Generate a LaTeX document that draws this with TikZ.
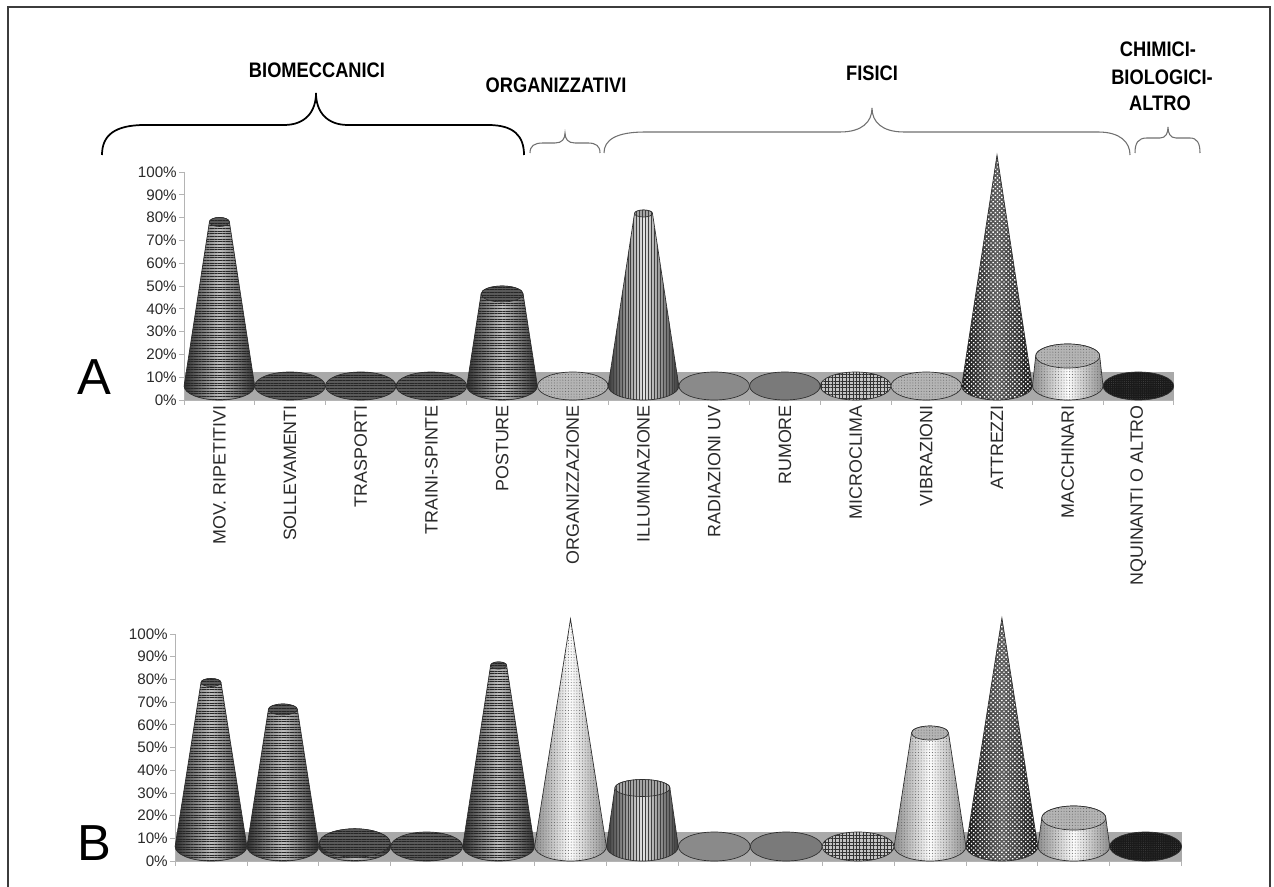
\documentclass[tikz,border=0pt]{standalone}
\usepackage{fontspec}
\setmainfont{Liberation Sans}
\newfontfamily\headfont[FakeStretch=0.87]{Liberation Sans}
\usetikzlibrary{patterns.meta}
\definecolor{frameC}{HTML}{3C3C3C}
\definecolor{bandC}{HTML}{A9A9A9}
\definecolor{axisC}{HTML}{B4B4B4}
\definecolor{edgeC}{HTML}{2E2E2E}
\definecolor{txtC}{HTML}{2A2A2A}
\definecolor{braceC}{HTML}{707070}
\definecolor{hsE}{HTML}{2E2E2E}
\definecolor{hsM}{HTML}{BEBEBE}
\definecolor{hsT}{HTML}{5A5A5A}
\definecolor{vsE}{HTML}{3C3C3C}
\definecolor{vsM}{HTML}{E4E4E4}
\definecolor{vsT}{HTML}{A4A4A4}
\definecolor{ldE}{HTML}{8E8E8E}
\definecolor{ldM}{HTML}{FCFCFC}
\definecolor{ldT}{HTML}{B4B4B4}
\definecolor{ckE}{HTML}{141414}
\definecolor{ckM}{HTML}{5E5E5E}
\definecolor{fdC}{HTML}{8E8E8E}
\definecolor{soC}{HTML}{7A7A7A}
\definecolor{grC}{HTML}{C4C4C4}
\definecolor{bkC}{HTML}{1A1A1A}
\tikzset{
  edge/.style={draw=edgeC, line width=0.5pt},
  hs side/.style={left color=hsE, right color=hsE, middle color=hsM},
  hs top/.style={fill=hsT},
  hs pat/.style={pattern={Lines[angle=0,distance=2pt,line width=0.42pt]}, pattern color=black!85},
  vs side/.style={left color=vsE, right color=vsE, middle color=vsM},
  vs top/.style={fill=vsT},
  vs pat/.style={pattern={Lines[angle=90,distance=2.2pt,line width=0.35pt]}, pattern color=black!75},
  ld side/.style={left color=ldE, right color=ldE, middle color=ldM},
  ld top/.style={fill=ldT},
  ld pat/.style={pattern={Dots[radius=0.38pt,distance=2.1pt]}, pattern color=black!60},
  ck side/.style={left color=ckE, right color=ckE, middle color=ckM},
  ck top/.style={fill=ckE},
  ck pat/.style={pattern={Dots[radius=0.72pt,distance=2.3pt,angle=45]}, pattern color=white},
  fd top/.style={fill=fdC},
  fd pat/.style={pattern={Dots[radius=0.3pt,distance=1.5pt]}, pattern color=black!60},
  so top/.style={fill=soC},
  so pat/.style={},
  gr top/.style={fill=grC},
  gr pat/.style={pattern={Hatch[distance=2.6pt,line width=0.45pt]}, pattern color=black!80},
  bk top/.style={fill=bkC},
  bk pat/.style={pattern={Dots[radius=0.3pt,distance=1.6pt]}, pattern color=black!70!white},
  axisln/.style={draw=axisC, line width=0.6pt},
  band/.style={fill=bandC},
  pct/.style={anchor=east, inner sep=0pt, text=txtC, font=\fontsize{11.4pt}{13pt}\selectfont},
  catlab/.style={rotate=90, anchor=east, inner sep=0pt, text=txtC, font=\fontsize{13.4pt}{16pt}\selectfont},
  head/.style={inner sep=0pt, text=black, font=\headfont\bfseries\fontsize{15.75pt}{19pt}\selectfont},
  biglet/.style={inner sep=0pt, anchor=base west, text=black, font=\fontsize{38pt}{40pt}\selectfont},
  bracebig/.style={draw=black, line width=1.3pt},
  bracesmall/.style={draw=braceC, line width=0.8pt},
  frameln/.style={draw=frameC, line width=1.8pt},
}
% #1 mat, #2 cx, #3 cy, #4 rb, #5 ryb, #6 ty, #7 rt, #8 ryt
\newcommand\Frust[8]{%
  \shade[#1 side] (#2-#4,#3) -- (#2-#7,#6) arc[start angle=180,end angle=360,x radius=#7,y radius=#8] -- (#2+#4,#3) arc[start angle=0,end angle=180,x radius=#4,y radius=#5] -- cycle;
  \path[#1 pat] (#2-#4,#3) -- (#2-#7,#6) arc[start angle=180,end angle=360,x radius=#7,y radius=#8] -- (#2+#4,#3) arc[start angle=0,end angle=180,x radius=#4,y radius=#5] -- cycle;
  \draw[edge] (#2-#4,#3) -- (#2-#7,#6) arc[start angle=180,end angle=360,x radius=#7,y radius=#8] -- (#2+#4,#3) arc[start angle=0,end angle=180,x radius=#4,y radius=#5] -- cycle;
  \fill[#1 top] (#2,#6) ellipse[x radius=#7,y radius=#8];
  \path[#1 pat] (#2,#6) ellipse[x radius=#7,y radius=#8];
  \draw[edge] (#2,#6) ellipse[x radius=#7,y radius=#8];
}
% #1 mat, #2 cx, #3 cy, #4 rb, #5 ryb, #6 apex y
\newcommand\Cone[6]{%
  \shade[#1 side] (#2-#4,#3) -- (#2,#6) -- (#2+#4,#3) arc[start angle=0,end angle=180,x radius=#4,y radius=#5] -- cycle;
  \path[#1 pat] (#2-#4,#3) -- (#2,#6) -- (#2+#4,#3) arc[start angle=0,end angle=180,x radius=#4,y radius=#5] -- cycle;
  \draw[edge] (#2-#4,#3) -- (#2,#6) -- (#2+#4,#3) arc[start angle=0,end angle=180,x radius=#4,y radius=#5] -- cycle;
}
% #1 mat, #2 cx, #3 cy, #4 rx, #5 ry
\newcommand\Flat[5]{%
  \fill[#1 top] (#2,#3) ellipse[x radius=#4,y radius=#5];
  \path[#1 pat] (#2,#3) ellipse[x radius=#4,y radius=#5];
  \draw[edge] (#2,#3) ellipse[x radius=#4,y radius=#5];
}
\begin{document}
\begin{tikzpicture}[x=0.75pt,y=-0.75pt]
\useasboundingbox[fill=white] (0,0) rectangle (1274,887);
% frame
\draw[frameln] (8,887) -- (8,7) -- (1270,7) -- (1270,887);

% ---------- headings and braces ----------
\node[head] (hBio) at (317,70) {BIOMECCANICI};
\node[head] (hOrg) at (556,85) {ORGANIZZATIVI};
\node[head] (hFis) at (872,73) {FISICI};
\node[head] (hChi1) at (1158,49) {CHIMICI-};
\node[head] (hChi2) at (1162,77) {BIOLOGICI-};
\node[head] (hChi3) at (1160,103) {ALTRO};

\draw[bracebig] (102,155) .. controls (102,135) and (115,125) .. (145,125) -- (284,125) .. controls (305,125) and (316,112) .. (316,93) .. controls (316,112) and (327,125) .. (348,125) -- (488,125) .. controls (514,125) and (524,136) .. (524,155);
\draw[bracesmall] (530,153) .. controls (530,146) and (534,143) .. (543,143) -- (555,143) .. controls (562,143) and (565,139) .. (565,133) .. controls (565,139) and (568,143) .. (575,143) -- (588,143) .. controls (596,143) and (600,146) .. (600,153);
\draw[bracesmall] (604,153) .. controls (604,140) and (616,132) .. (645,132) -- (840,132) .. controls (862,132) and (872,122) .. (872,108) .. controls (872,122) and (882,132) .. (904,132) -- (1098,132) .. controls (1120,132) and (1130,142) .. (1130,155);
\draw[bracesmall] (1135,153) .. controls (1135,143) and (1138,138) .. (1147,138) -- (1160,138) .. controls (1166,138) and (1168,133) .. (1168,127) .. controls (1168,133) and (1170,138) .. (1176,138) -- (1190,138) .. controls (1197,138) and (1200,143) .. (1200,153);

% ---------- chart A ----------
\node[biglet] (letA) at (77,395) {A};
\fill[band] (184,372) rectangle (1174,400);
\draw[axisln] (184,172) -- (184,400) -- (1174,400);
\foreach \k in {0,...,10} {
  \draw[axisln] (179,400-22.8*\k) -- (184,400-22.8*\k);
  \pgfmathtruncatemacro\pv{10*\k}
  \node[pct] (pa\k) at (177,400-22.8*\k) {\pv\%};
}
\foreach \i in {0,...,14} { \draw[axisln] (184+70.7*\i,400) -- (184+70.7*\i,405); }

\Frust{hs}{219.4}{386}{35.3}{14}{222}{10}{4.5}
\Flat{hs}{290.0}{386}{35.3}{14}
\Flat{hs}{360.7}{386}{35.3}{14}
\Flat{hs}{431.4}{386}{35.3}{14}
\Frust{hs}{502.1}{386}{35.3}{14}{294}{21}{8}
\Flat{ld}{572.8}{386}{35.3}{14}
\Frust{vs}{643.5}{386}{35.3}{14}{213.5}{9}{3.5}
\Flat{fd}{714.2}{386}{35.3}{14}
\Flat{so}{784.9}{386}{35.3}{14}
\Flat{gr}{855.6}{386}{35.3}{14}
\Flat{ld}{926.3}{386}{35.3}{14}
\Cone{ck}{997.0}{386}{35.3}{14}{155}
\Frust{ld}{1067.7}{386}{35.3}{14}{356}{32}{12}
\Flat{bk}{1138.4}{386}{35.3}{14}

\node[catlab] (c1) at (219.4,405) {MOV. RIPETITIVI};
\node[catlab] (c2) at (290.0,405) {SOLLEVAMENTI};
\node[catlab] (c3) at (360.7,405) {TRASPORTI};
\node[catlab] (c4) at (431.4,405) {TRAINI-SPINTE};
\node[catlab] (c5) at (502.1,405) {POSTURE};
\node[catlab] (c6) at (572.8,405) {ORGANIZZAZIONE};
\node[catlab] (c7) at (643.5,405) {ILLUMINAZIONE};
\node[catlab] (c8) at (714.2,405) {RADIAZIONI UV};
\node[catlab] (c9) at (784.9,405) {RUMORE};
\node[catlab] (c10) at (855.6,405) {MICROCLIMA};
\node[catlab] (c11) at (926.3,405) {VIBRAZIONI};
\node[catlab] (c12) at (997.0,405) {ATTREZZI};
\node[catlab] (c13) at (1067.7,405) {MACCHINARI};
\node[catlab] (c14) at (1138.4,405) {NQUINANTI O ALTRO};

% ---------- chart B ----------
\node[biglet] (letB) at (77,860) {B};
\fill[band] (175,832) rectangle (1182,861);
\draw[axisln] (175,634) -- (175,861) -- (1182,861);
\foreach \k in {0,...,10} {
  \draw[axisln] (170,861-22.7*\k) -- (175,861-22.7*\k);
  \pgfmathtruncatemacro\pv{10*\k}
  \node[pct] (pb\k) at (168,861-22.7*\k) {\pv\%};
}
\foreach \i in {0,...,14} { \draw[axisln] (175+71.9*\i,861) -- (175+71.9*\i,866); }

\Frust{hs}{211.0}{846.5}{35.9}{14.5}{682.5}{10}{4}
\Frust{hs}{282.9}{846.5}{35.9}{14.5}{709.5}{14.5}{5.5}
\Frust{hs}{354.8}{846.5}{35.9}{14.5}{843}{35.4}{14.2}
\Flat{hs}{426.7}{846.5}{35.9}{14.5}
\Frust{hs}{498.6}{846.5}{35.9}{14.5}{665.5}{8}{3.6}
\Cone{ld}{570.5}{846.5}{35.9}{14.5}{619}
\Frust{vs}{642.4}{846.5}{35.9}{14.5}{788}{27.5}{8.5}
\Flat{fd}{714.3}{846.5}{35.9}{14.5}
\Flat{so}{786.2}{846.5}{35.9}{14.5}
\Flat{gr}{858.1}{846.5}{35.9}{14.5}
\Frust{ld}{930.0}{846.5}{35.9}{14.5}{733}{18.5}{7}
\Cone{ck}{1001.9}{846.5}{35.9}{14.5}{618}
\Frust{ld}{1073.8}{846.5}{35.9}{14.5}{818}{32}{12}
\Flat{bk}{1145.7}{846.5}{35.9}{14.5}
\end{tikzpicture}
\end{document}
